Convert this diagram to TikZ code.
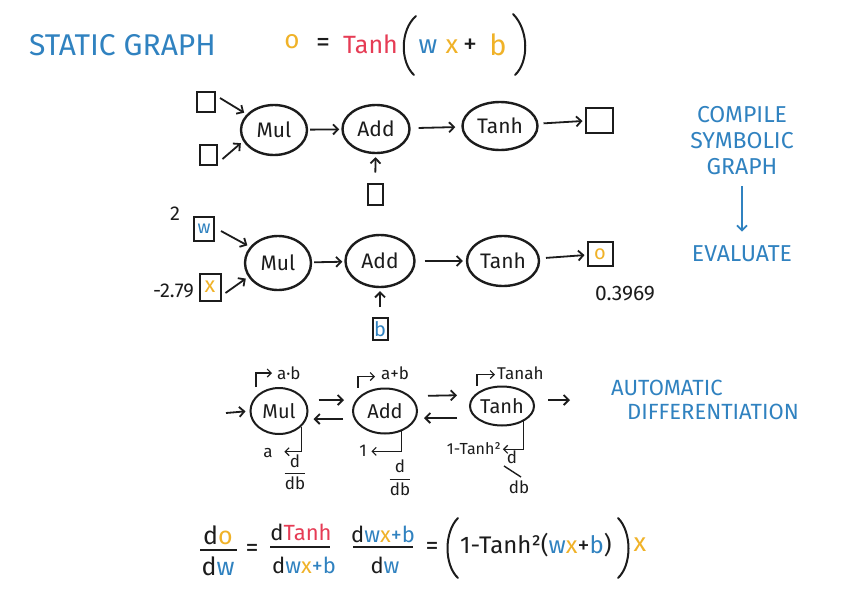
\documentclass[tikz,border=0pt]{standalone}
\usepackage{fontspec}
\setmainfont{Fira Sans}
\usetikzlibrary{shapes.geometric,arrows.meta}
\definecolor{hblue}{RGB}{48,130,192}
\definecolor{hred}{RGB}{230,60,85}
\definecolor{horange}{RGB}{240,178,40}
\definecolor{ink}{RGB}{28,28,28}
\newcommand{\myfs}[1]{\fontsize{#1}{#1}\selectfont}
\begin{document}
\begin{tikzpicture}[x=1pt,y=-1pt,
  op/.style={ellipse,draw=ink,line width=2.4pt,inner sep=0pt,text=ink,font=\myfs{21}},
  opsmall/.style={op,line width=2pt,font=\myfs{20}},
  vbox/.style={rectangle,draw=ink,line width=2pt,inner sep=0pt,font=\myfs{18}},
  arr/.style={draw=ink,line width=1.8pt,-{Straight Barb[length=5pt,width=10pt]}},
  tarr/.style={draw=ink,line width=1.1pt,-{Straight Barb[length=4pt,width=8pt]}},
  bluetxt/.style={text=hblue,inner sep=0pt,font=\myfs{23}},
  txt/.style={text=ink,inner sep=0pt},
  fbar/.style={draw=ink,line width=1.4pt},
  paren/.style={draw=ink,line width=2pt,line cap=round},
]
\useasboundingbox[fill=white] (0,0) rectangle (863,603);

% title and formula
\node[bluetxt,font=\myfs{30},anchor=west] (title) at (29,45) {STATIC GRAPH};
\node[txt,text=horange,font=\myfs{26}] (fo) at (292,42) {o};
\node[txt,font=\myfs{28}] (feq) at (323,45) {=};
\node[txt,text=hred,font=\myfs{25},anchor=west] (ftanh) at (343,44) {Tanh};
\draw[paren] (416,16) .. controls (400,30) and (400,62) .. (414,75);
\node[txt,text=hblue,font=\myfs{26}] (fw) at (428,47) {w};
\node[txt,text=horange,font=\myfs{26}] (fx) at (452,47) {x};
\node[txt,font=\myfs{28}] (fp) at (470,46) {+};
\node[txt,text=horange,font=\myfs{29}] (fb) at (498,45) {b};
\draw[paren] (513,14) .. controls (529,30) and (529,62) .. (515,75);

% row 1
\node[op,minimum width=66,minimum height=50] (m1) at (274,130) {Mul};
\node[op,minimum width=67,minimum height=48] (a1) at (376,129) {Add};
\node[op,minimum width=75,minimum height=48] (t1) at (500,126) {Tanh};
\node[vbox,minimum width=27,minimum height=25] (o1) at (599,120) {};
\node[vbox,minimum width=18,minimum height=20] (i1) at (206,102) {};
\node[vbox,minimum width=17,minimum height=20] (i2) at (208,155) {};
\node[vbox,minimum width=15,minimum height=21] (i3) at (375,194) {};
\draw[arr,shorten >=3pt] ([shift={(4,-4)}]i1.east) -- (m1.150);
\draw[arr,shorten >=3pt] ([shift={(5,4)}]i2.east) -- (m1.200);
\draw[arr,shorten <=2pt,shorten >=2pt] (m1) -- (a1);
\draw[arr,shorten <=8pt,shorten >=6pt] (a1) -- (t1);
\draw[arr,shorten <=5pt,shorten >=2pt] (t1) -- (o1);
\draw[arr,shorten <=10pt,shorten >=3pt] (i3) -- (a1);

% row 2
\node[op,minimum width=66,minimum height=54] (m2) at (278,263) {Mul};
\node[op,minimum width=69,minimum height=52] (a2) at (380,261) {Add};
\node[op,minimum width=72,minimum height=50] (t2) at (503,261) {Tanh};
\node[vbox,minimum width=25,minimum height=24,text=horange,font=\myfs{20}] (o2) at (600,254) {o};
\node[vbox,minimum width=20,minimum height=24,text=hblue,font=\myfs{18}] (w2) at (204,229) {w};
\node[vbox,minimum width=21,minimum height=27,text=horange,font=\myfs{22}] (x2) at (210,287) {x};
\node[vbox,minimum width=15,minimum height=22,text=hblue,font=\myfs{20}] (b2) at (380,329) {b};
\node[txt,font=\myfs{20}] (l2) at (175,214) {2};
\node[txt,font=\myfs{20},anchor=east] (l279) at (194,291) {-2.79};
\node[txt,font=\myfs{21}] (l3969) at (625,294) {0.3969};
\draw[arr,shorten >=3pt] ([shift={(6,2)}]w2.east) -- (m2.150);
\draw[arr,shorten >=3pt] ([shift={(4,6)}]x2.east) -- (m2.205);
\draw[arr,shorten <=2pt,shorten >=2pt] (m2) -- (a2);
\draw[arr,shorten <=9pt,shorten >=3pt] (a2) -- (t2);
\draw[arr,shorten <=6pt,shorten >=2pt] (t2) -- (o2);
\draw[arr,shorten <=10pt,shorten >=3pt] (b2) -- (a2);

% row 3
\node[opsmall,minimum width=57,minimum height=46] (m3) at (279,411) {Mul};
\node[opsmall,minimum width=64,minimum height=45] (a3) at (385,411) {Add};
\node[opsmall,minimum width=64,minimum height=39] (t3) at (502,406) {Tanh};
\coordinate (in3) at (226,413);
\coordinate (out3) at (570,400);
\draw[arr,shorten >=4pt] (in3) -- (m3.west);
\draw[arr,shorten <=10pt,shorten >=8pt] ([yshift=11pt]m3.east) -- ([yshift=11pt]a3.west);
\draw[arr,shorten <=9pt,shorten >=5pt] ([yshift=-8pt]a3.west) -- ([yshift=-8pt]m3.east);
\draw[arr,shorten <=10pt,shorten >=12pt] ([yshift=15pt]a3.east) -- ([yshift=11pt]t3.west);
\draw[arr,shorten <=12pt,shorten >=6pt] ([yshift=-12pt]t3.west) -- ([yshift=-7pt]a3.east);
\draw[arr,shorten <=13pt] ([yshift=6pt]t3.east) -- (out3);

\draw[tarr] ([xshift=-23pt]m3.north) -- ++(0,-14) -- ++(16,0);
\node[txt,font=\myfs{17},anchor=west] (ab) at (277,373) {a·b};
\draw[tarr] ([xshift=-27pt]a3.north) -- ++(0,-11) -- ++(17,0);
\node[txt,font=\myfs{17},anchor=west] (apb) at (381,373) {a+b};
\draw[tarr] ([xshift=-25pt]t3.north) -- ++(0,-11) -- ++(18,0);
\node[txt,font=\myfs{17},anchor=west] (tanah) at (497,373) {Tanah};

\draw[tarr] (m3.-35) -- ++(0,25) -- ++(-17,0);
\node[txt,font=\myfs{17}] (la) at (268,453) {a};
\node[txt,font=\myfs{17}] (d1n) at (295,461) {d};
\node[txt,font=\myfs{17}] (d1d) at (295,483) {db};
\draw[fbar] ([yshift=3pt]d1d.north west) -- ([yshift=3pt]d1d.north east);

\draw[tarr] (a3.-51) -- ++(0,20) -- ++(-30,0);
\node[txt,font=\myfs{17}] (l1) at (363,451) {1};
\node[txt,font=\myfs{17}] (d2n) at (400,466) {d};
\node[txt,font=\myfs{17}] (d2d) at (400,489) {db};
\draw[fbar] ([yshift=3pt]d2d.north west) -- ([yshift=3pt]d2d.north east);

\draw[tarr] (t3.-35) -- ++(0,28) -- ++(-21,0);
\node[txt,font=\myfs{16},anchor=east] (l1t) at (501,449) {1-Tanh²};
\node[txt,font=\myfs{17}] (d3n) at (512,457) {d};
\node[txt,font=\myfs{17}] (d3d) at (519,487) {db};
\draw[fbar] (504,466) -- (521,477);

% right labels
\node[bluetxt] (comp) at (742,115) {COMPILE};
\node[bluetxt] (symb) at (742,141) {SYMBOLIC};
\node[bluetxt] (graph) at (742,167) {GRAPH};
\node[bluetxt] (eval) at (742,254) {EVALUATE};
\draw[arr,draw=hblue,shorten <=11pt,shorten >=14pt] (graph) -- (eval);
\node[bluetxt,font=\myfs{22},anchor=west] (auto) at (611,388) {AUTOMATIC};
\node[bluetxt,font=\myfs{22},anchor=west] (diff) at (627,412) {DIFFERENTIATION};

% bottom equation
\node[txt,font=\myfs{25}] (e1n) at (218,535) {d\textcolor{horange}{o}};
\node[txt,font=\myfs{25}] (e1d) at (218,566) {d\textcolor{hblue}{w}};
\draw[fbar] (200,550) -- (237,550);
\node[txt,font=\myfs{26}] (eq1) at (252,550) {=};
\node[txt,font=\myfs{22}] (e2n) at (301,532) {d\textcolor{hred}{Tanh}};
\node[txt,font=\myfs{22}] (e2d) at (304,565) {d\textcolor{hblue}{w}\textcolor{horange}{x}\textcolor{hblue}{+b}};
\draw[fbar] (270,547) -- (330,547);
\node[txt,font=\myfs{22}] (e3n) at (383,534) {d\textcolor{hblue}{w}\textcolor{horange}{x}\textcolor{hblue}{+b}};
\node[txt,font=\myfs{22}] (e3d) at (385,565) {d\textcolor{hblue}{w}};
\draw[fbar] (353,547) -- (413,547);
\node[txt,font=\myfs{26}] (eq2) at (432,548) {=};
\draw[paren] (458,518) .. controls (444,532) and (444,565) .. (458,578);
\node[txt,font=\myfs{24},anchor=west] (rhs) at (460,545) {1-Tanh²(\textcolor{hblue}{w}\textcolor{horange}{x}+\textcolor{hblue}{b})};
\draw[paren] (618,518) .. controls (632,532) and (632,565) .. (618,578);
\node[txt,font=\myfs{26},text=horange] (ex) at (640,545) {x};
\end{tikzpicture}
\end{document}
